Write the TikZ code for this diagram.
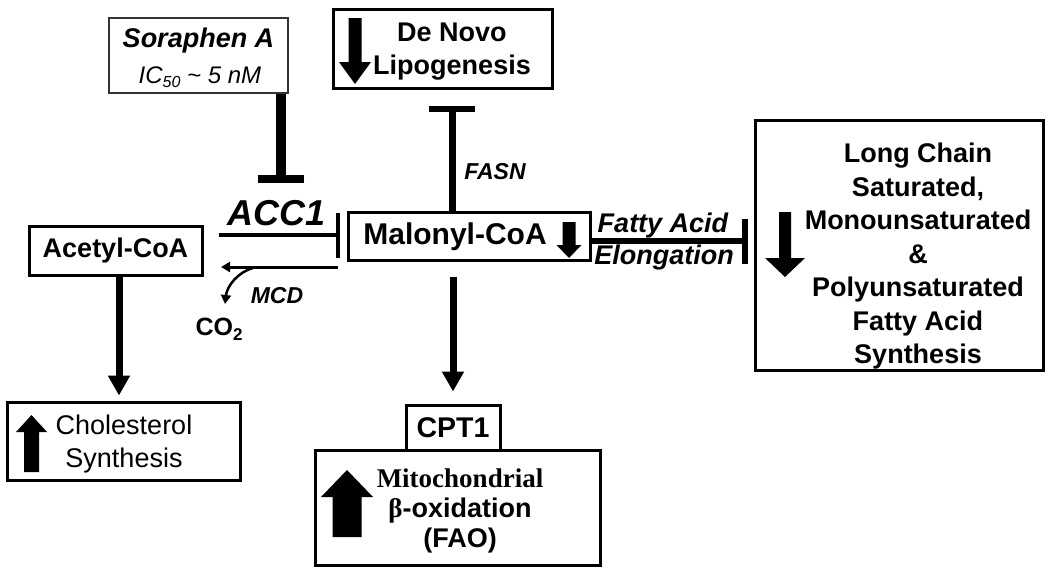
\documentclass[tikz,border=0pt]{standalone}
\usepackage{fontspec}
\setmainfont{Liberation Sans}
\newfontfamily\tnr{Liberation Serif}
\usetikzlibrary{arrows.meta}
\newcommand{\blkarr}[6]{\fill (#1-#5,#2) -- (#1+#5,#2) -- (#1+#5,#3) -- (#1+#6,#3) -- (#1,#4) -- (#1-#6,#3) -- (#1-#5,#3) -- cycle;}
\tikzset{
  box/.style={draw, line width=3pt, rectangle, inner sep=0pt},
  lbl/.style={inner sep=0pt, align=center, font=\fontsize{27}{33.5}\selectfont\bfseries},
  ilbl/.style={inner sep=0pt, align=center, font=\fontsize{27}{31}\selectfont\bfseries\itshape},
  thickarrow/.style={line width=7pt, -{Triangle[width=21pt,length=20pt]}},
}
\begin{document}
\begin{tikzpicture}[x=1pt,y=-1pt]
\useasboundingbox (0,0) rectangle (1050,574);
\fill[white] (0,0) rectangle (1050,574);

% boxes
\node[draw=black!80, line width=2.5pt, rectangle, inner sep=0pt, minimum width=179pt, minimum height=75pt] (sor) at (198.5,55.5) {};
\node[box, minimum width=219pt, minimum height=79pt] (dnl) at (442.5,48.5) {};
\node[box, minimum width=173pt, minimum height=49pt, lbl] (ace) at (115.5,250.5) {Acetyl-CoA};
\node[box, minimum width=242pt, minimum height=48pt] (mal) at (469,236) {};
\node[box, minimum width=288pt, minimum height=250pt] (lcf) at (899,245) {};
\node[box, minimum width=233pt, minimum height=78pt] (chol) at (123.5,441) {};
\node[box, minimum width=94pt, minimum height=45pt, lbl, font=\fontsize{28.5}{30}\selectfont\bfseries] (cpt) at (453,427.5) {CPT1};
\node[box, minimum width=285pt, minimum height=115pt] (mito) at (457.5,507.5) {};

% texts
\node[inner sep=0pt, font=\fontsize{27}{30}\selectfont\bfseries\itshape] (sort1) at (198.5,41) {Soraphen A};
\node[inner sep=0pt, font=\fontsize{24}{28}\selectfont\itshape] (sort2) at (200,77) {IC\raisebox{-0.35ex}{\fontsize{16}{16}\selectfont 50} \textasciitilde\ 5 nM};
\node[lbl] (dnlt) at (452,51.5) {De Novo\\Lipogenesis};
\node[lbl, font=\fontsize{30}{33}\selectfont\bfseries] (malt) at (455,237) {Malonyl-CoA};
\node[lbl] (lcft) at (918,256.5) {Long Chain\\Saturated,\\Monounsaturated\\\&\\Polyunsaturated\\Fatty Acid\\Synthesis};
\node[inner sep=0pt, align=center, font=\fontsize{27}{33}\selectfont] (cholt) at (124,444.5) {Cholesterol\\Synthesis};
\node[inner sep=0pt, align=center, font=\fontsize{27}{30}\selectfont\bfseries] (mitot) at (460,511) {{\tnr Mitochondrial}\\{\tnr\bfseries β}-oxidation\\(FAO)};
\node[inner sep=0pt, font=\fontsize{36}{36}\selectfont\bfseries\itshape] (acc) at (277,213) {ACC1};
\node[inner sep=0pt, font=\fontsize{23}{23}\selectfont\bfseries\itshape] (fasn) at (495,172) {FASN};
\node[inner sep=0pt, font=\fontsize{23}{23}\selectfont\bfseries\itshape] (mcd) at (277,296) {MCD};
\node[inner sep=0pt, font=\fontsize{25}{25}\selectfont\bfseries] (co2) at (219,329) {CO\raisebox{-0.4ex}{\fontsize{17}{17}\selectfont 2}};
\node[ilbl] (fa1) at (663,226) {Fatty Acid};
\node[ilbl] (fa2) at (664,258) {Elongation};

% block arrows
\blkarr{355}{18}{62}{84}{6.5}{16}
\blkarr{569}{222}{245}{258}{6.5}{12.5}
\blkarr{785}{212}{258}{277}{6}{20}
\blkarr{31.5}{472}{432}{415}{7.5}{15.5}
\blkarr{347}{537}{497}{470}{14.5}{26}

% connectors
\coordinate (sorT) at (281,183);
\draw[line width=10pt, -{Bar[width=46pt,line width=8pt]}] (sor.south -| sorT) -- (sorT);
\coordinate (a1s) at (219,235);
\coordinate (a1e) at (340,235);
\draw[line width=4pt, -{Bar[width=45pt,line width=4pt]}] (a1s) -- (a1e);
\coordinate (a2s) at (338,267);
\coordinate (a2e) at (221,267);
\draw[line width=3pt, -{Triangle[width=10pt,length=9pt]}] (a2s) -- (a2e);
\coordinate (m1) at (253,268);
\coordinate (m2) at (225,304);
\draw[line width=2.5pt, -{Triangle[width=10pt,length=9pt]}] (m1) .. controls (238,272) and (227,286) .. (m2);
\coordinate (fasnT) at (452,106);
\draw[line width=7pt, -{Bar[width=46pt,line width=6pt]}] (mal.north -| fasnT) -- (fasnT);
\coordinate (faT) at (748,241);
\draw[line width=6pt, -{Bar[width=45pt,line width=6pt]}] (mal.east |- faT) -- (faT);
\coordinate (aceA) at (119,277);
\draw[thickarrow, shorten >=5pt] (aceA) -- (chol.north -| aceA);
\draw[thickarrow, shorten <=15pt, shorten >=12pt] (cpt.north |- mal.south) -- (cpt.north);
\end{tikzpicture}
\end{document}
